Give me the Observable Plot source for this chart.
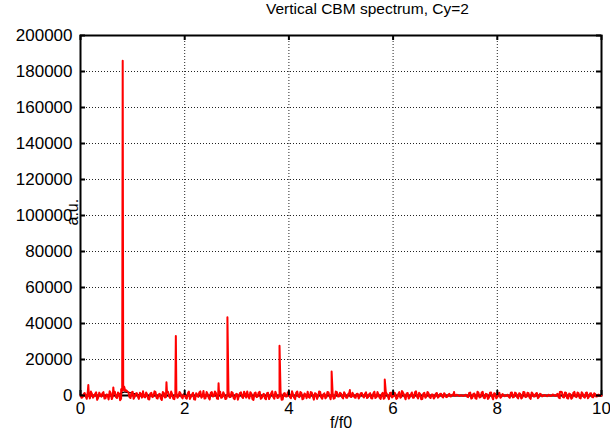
<!DOCTYPE html>
<html><head><meta charset="utf-8">
<script src="https://cdn.jsdelivr.net/npm/d3@7"></script>
<script src="https://cdn.jsdelivr.net/npm/@observablehq/plot@0.6"></script>
<style>
body{margin:0;background:#fff;font-family:"Liberation Sans",Arial,Helvetica,sans-serif;}
#title{height:22px;line-height:18px;font-size:15.5px;padding-left:266px;color:#000;white-space:nowrap;}
#chart svg{display:block;overflow:visible;}
</style></head><body>
<div id="title">Vertical CBM spectrum, Cy=2</div>
<div id="chart"></div>
<script>
const titleText = "Vertical CBM spectrum, Cy=2";
const xLabel = "f/f0";
const yLabel = "a.u.";
const xTicks = [0, 2, 4, 6, 8, 10];
const yTicks = [0, 20000, 40000, 60000, 80000, 100000, 120000, 140000, 160000, 180000, 200000];

// spectral lines [f/f0, amplitude] (incl. shoulders of the main line)
const peaks = [
  [0.15, 5800], [0.63, 4500], [0.78, 3500], [0.81, 186000], [0.84, 4800], [0.87, 3000],
  [1.65, 7400], [1.83, 33000], [2.65, 6800], [2.82, 43500], [3.82, 27600],
  [4.82, 13300], [5.17, 3000], [5.84, 8900], [6.17, 2500], [7.17, 2000], [9.2, 2000]
];

// background noise, samples at f = 0, 0.04, 0.08, ... 10
const noiseStep = 0.04;
const noiseA = [
  200,-900,1400,-1800,600,2200,-1200,800,-2400,1600,
  -600,1900,-1500,300,2400,-2000,1100,-800,1700,-2600,
  2500,3500,2800,1800,-1400,2100,-700,1300,-1900,900,
  2300,-1100,600,-2200,1500,-400,1900,-1700,1000,-2500,
  1400,-900,2000,-1300,700,-2100,1800,-500,1200,-1600,
  900,-1800,2200,-700,1500,-2300,500,1700,-1200,2500,
  -1500,800,-2200,1900,-300,1300,-1900,2100,-1000,600,
  -1700,2400,-800,1500,-2000,1000,-400,1800,-1400,700,
  2200,-1600,1100,-2400,1700,-600,2000,-1300,900,-2100,
  1500,-700,2300,-1800,600,-1200,1900,-2200,1300,-500,
  1800,-1500,700,-2000,2200,-900,1400,-1700,500,2100,
  -1300,1600,-2300,900,-600,2000,-1800,1200,-1000,1700,
  -2100,800,-1400,1900,-500,1100,-1600,700,-1200,1500,
  -800,400,-1300,1000,-600,1400,-1100,1800,-900,1300,
  -1700,2100,-1000,600,-1900,1500,-1300,900,-2000,1600,
  -600,1200,-1500,1900,-700,1000,-2100,1400,-900,1700,
  -1200,2300,-1600,800,-2000,1500,-500,1200,-1400,600,
  -900,1400,-600,1000,-1100,500,-700,900,-400,300,
  -200,300,-300,200,-100,400,-900,1600,-1300,1100,
  -1800,1400,-900,2000,-1500,700,-1200,1700,-2100,900,
  -1000,1500,-600,300,-200,400,-1300,1700,-800,1200,
  -1600,900,-1100,1800,-700,1300,-1900,1000,-500,1400,
  -800,600,-300,200,-400,300,-200,400,-300,900,
  -1500,1900,-1100,1400,-1700,800,-1300,2000,-900,1200,
  -1600,1000,-1200,1700,-700,1300,-1000,800,-400,300,
  0
];
// background noise, samples at f = 0.02, 0.06, 0.10, ... 9.98
const noiseB = [
  -1300,700,-500,2100,-1600,900,-300,1800,-1100,400,
  1200,-1700,600,-2200,1300,-500,2000,-1400,900,-1800,
  3000,2400,2200,-900,1600,-1800,1000,-600,1500,-1200,
  -700,1700,-2000,1100,-900,2300,-1300,500,-1600,1900,
  -1100,1600,-400,2200,-1700,800,-1300,2000,-900,700,
  -1400,1200,-1900,600,-2100,1300,-800,2300,-500,-1700,
  1900,-1200,1500,-600,2200,-1700,700,-1300,1800,-2000,
  1100,-900,1900,-1600,600,-2300,1400,-700,2100,-1200,
  -600,1800,-2000,1200,-900,1600,-1800,400,-1500,1300,
  -2000,1300,-900,2100,-1400,700,-2300,1000,-600,1800,
  -900,2300,-1200,1600,-500,1900,-2100,1100,-1500,-800,
  1900,-700,1300,-1900,2200,-1100,600,-1600,2000,-400,
  1300,-1800,2200,-600,1500,-900,1800,-1300,1000,-700,
  1500,-1100,800,-1700,1300,-500,900,-1400,700,-1600,
  1100,-1400,1900,-1200,700,-1800,2000,-600,1400,-1100,
  1600,-1900,800,-1300,2100,-600,1200,-1700,500,-1300,
  1800,-700,1500,-2100,1000,-1300,2000,-900,600,-1700,
  1100,-1200,800,-600,1300,-900,400,-500,600,-200,
  400,-200,100,-300,300,-600,1400,-1700,900,-1500,
  2100,-1100,1600,-1300,900,-1900,1500,-800,1300,-1600,
  1100,-1300,800,-400,200,-700,1500,-1100,1600,-900,
  1300,-1700,2000,-900,1500,-1200,1700,-600,1100,-1500,
  1000,-500,300,-200,400,-300,500,-200,600,-1200,
  2100,-900,1700,-1400,1100,-1800,1500,-600,1700,-1300,
  1800,-800,1400,-1500,1100,-800,1200,-600,500,-300
];

// second (black) trace, almost flat near zero
const blackF = [0, 0.7, 0.77, 0.85, 0.95, 1.05, 1.15, 10];
const blackA = [0, 0, 1200, 2000, 1600, 800, 0, 0];

const redSeries = noiseA.map((a, i) => ({f: +(i * noiseStep).toFixed(2), a}))
  .concat(noiseB.map((a, i) => ({f: +(i * noiseStep + noiseStep / 2).toFixed(2), a})))
  .concat(peaks.map(([f, a]) => ({f, a})))
  .sort((p, q) => p.f - q.f);
const blackSeries = blackF.map((f, i) => ({f, a: blackA[i]}));

const W = 610, H = 411, mL = 80, mR = 9, mT = 13, mB = 38;
const plotW = W - mL - mR, plotH = H - mT - mB;
const font = '"Liberation Sans", Arial, Helvetica, sans-serif';
const gridStyle = {stroke: "#222", strokeOpacity: 1, strokeWidth: 1, strokeDasharray: "1,2"};

const chart = Plot.plot({
  width: W, height: H,
  marginLeft: mL, marginRight: mR, marginTop: mT, marginBottom: mB,
  style: {fontFamily: font, fontSize: "17px", background: "#fff", color: "#000"},
  x: {domain: [0, 10]},
  y: {domain: [0, 200000]},
  marks: [
    Plot.gridX(xTicks, gridStyle),
    Plot.gridY(yTicks, gridStyle),
    Plot.frame({stroke: "#000", strokeWidth: 2}),
    Plot.line(blackSeries, {x: "f", y: "a", stroke: "#000", strokeWidth: 1.5}),
    Plot.line(redSeries, {x: "f", y: "a", stroke: "#ff0000", strokeWidth: 2}),
    Plot.tickX(xTicks, {x: d => d, insetTop: plotH - 5, stroke: "#000", strokeWidth: 2}),
    Plot.tickX(xTicks, {x: d => d, insetBottom: plotH - 5, stroke: "#000", strokeWidth: 2}),
    Plot.tickY(yTicks, {y: d => d, insetRight: plotW - 5, stroke: "#000", strokeWidth: 2}),
    Plot.tickY(yTicks, {y: d => d, insetLeft: plotW - 5, stroke: "#000", strokeWidth: 2}),
    Plot.axisX(xTicks, {tickSize: 0, tickPadding: 6, label: null, fontSize: 17}),
    Plot.axisY(yTicks, {tickSize: 0, tickPadding: 8, label: null, fontSize: 17, tickFormat: d => String(d)}),
    Plot.text([yLabel], {text: d => d, frameAnchor: "left", dx: -8, dy: 10, rotate: -90, fontSize: 16}),
    Plot.text([xLabel], {text: d => d, frameAnchor: "bottom", dy: 32, fontSize: 16})
  ]
});
document.getElementById("title").textContent = titleText;
document.getElementById("chart").appendChild(chart);
</script>
</body></html>
